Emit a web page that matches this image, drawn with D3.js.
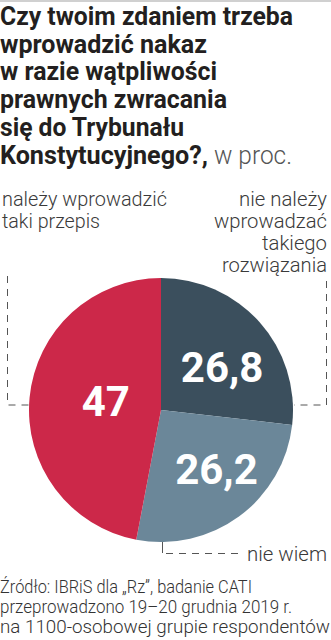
<!DOCTYPE html>
<html>
<head>
<meta charset="utf-8">
<script src="https://cdn.jsdelivr.net/npm/d3@7"></script>
<style>
  body { margin: 0; background: #fff; }
  svg { display: block; }
  text { font-family: Roboto, "Noto Sans", sans-serif; }
</style>
</head>
<body>
<div id="chart"></div>
<script>
// data
var categories = ["nie należy wprowadzać takiego rozwiązania", "nie wiem", "należy wprowadzić taki przepis"];
var values = [26.8, 26.2, 47];
var valueLabels = ["26,8", "26,2", "47"];
var colors = ["#3b4f5d", "#6b8799", "#cc2849"];

var titleLines = ["Czy twoim zdaniem trzeba", "wprowadzić nakaz", "w razie wątpliwości",
    "prawnych zwracania", "się do Trybunału", "Konstytucyjnego?,"];
var sourceLines = ["Źródło: IBRiS dla „Rz”, badanie CATI",
    "przeprowadzono 19–20 grudnia 2019 r.",
    "na 1100-osobowej grupie respondentów"];

var width = 331, height = 640;
var svg = d3.select("#chart").append("svg")
    .attr("width", width)
    .attr("height", height);

// thin grey rule on top
svg.append("rect").attr("x", 0).attr("y", 0).attr("width", width).attr("height", 2).attr("fill", "#d0d0d0");

// title
var titleWidths = [293, 207, 217, 227, 184, 208];
svg.selectAll(".title")
    .data(titleLines)
    .enter().append("text")
    .attr("class", "title")
    .attr("x", 0)
    .attr("y", function(d, i) { return 25 + i * 27.7; })
    .attr("font-size", 26)
    .attr("font-weight", 700)
    .attr("fill", "#231f20")
    .attr("textLength", function(d, i) { return titleWidths[i]; })
    .attr("lengthAdjust", "spacingAndGlyphs")
    .text(function(d) { return d; });

svg.append("text")
    .attr("x", 214).attr("y", 163.5)
    .attr("font-size", 25)
    .attr("font-weight", 300)
    .attr("fill", "#555")
    .attr("textLength", 78)
    .attr("lengthAdjust", "spacingAndGlyphs")
    .text("w proc.");

// pie
var cx = 161, cy = 410, r = 132;
var pie = d3.pie().sort(null).value(function(d) { return d; });
var arc = d3.arc().innerRadius(0).outerRadius(r);
var arcs = pie(values);

var g = svg.append("g").attr("transform", "translate(" + cx + "," + cy + ")");
g.selectAll("path")
    .data(arcs)
    .enter().append("path")
    .attr("d", arc)
    .attr("fill", function(d, i) { return colors[i]; });

// value labels, radius per slice as placed in the original
var labelRadius = [75, 81, 56];
g.selectAll(".val")
    .data(arcs)
    .enter().append("text")
    .attr("class", "val")
    .attr("transform", function(d, i) {
        var a = (d.startAngle + d.endAngle) / 2;
        if (i === 0) a += 0.11;
        if (i === 1) a -= 0.12;
        if (i === 2) a += 0.07;
        return "translate(" + (Math.sin(a) * labelRadius[i]) + "," + (-Math.cos(a) * labelRadius[i]) + ")";
    })
    .attr("text-anchor", "middle")
    .attr("dy", "0.36em")
    .attr("font-size", 42)
    .attr("font-weight", 700)
    .attr("fill", "#fff")
    .text(function(d, i) { return valueLabels[i]; });

// category labels
var lab = svg.append("g").attr("font-weight", 300).attr("fill", "#3a3a3a").attr("font-size", 21);
var leftLines = ["należy wprowadzić", "taki przepis"];
var leftW = [165, 98];
lab.selectAll(".l")
    .data(leftLines)
    .enter().append("text")
    .attr("x", 2)
    .attr("y", function(d, i) { return 206 + i * 22; })
    .attr("textLength", function(d, i) { return leftW[i]; })
    .attr("lengthAdjust", "spacingAndGlyphs")
    .text(function(d) { return d; });

var rightLines = ["nie należy", "wprowadzać", "takiego", "rozwiązania"];
var rightW = [88, 113, 65, 105];
lab.selectAll(".r")
    .data(rightLines)
    .enter().append("text")
    .attr("x", function(d, i) { return 327 - rightW[i]; })
    .attr("y", function(d, i) { return 206 + i * 22; })
    .attr("textLength", function(d, i) { return rightW[i]; })
    .attr("lengthAdjust", "spacingAndGlyphs")
    .text(function(d) { return d; });

lab.append("text")
    .attr("x", 247).attr("y", 561)
    .attr("textLength", 80)
    .attr("lengthAdjust", "spacingAndGlyphs")
    .text("nie wiem");

// leader lines
var lines = svg.append("g").attr("stroke", "#555").attr("stroke-width", 1).attr("fill", "none");
lines.append("path").attr("d", "M7.5,276V405H32").attr("stroke-dasharray", "7,6");
lines.append("path").attr("d", "M326.5,281V405H294").attr("stroke-dasharray", "7,6");
lines.append("path").attr("d", "M162.5,542V553");
lines.append("path").attr("d", "M166,553.5H238").attr("stroke-dasharray", "7,6");

// source
svg.selectAll(".src")
    .data(sourceLines)
    .enter().append("text")
    .attr("class", "src")
    .attr("x", 0)
    .attr("y", function(d, i) { return 593 + i * 20; })
    .attr("font-size", 18)
    .attr("font-weight", 300)
    .attr("fill", "#333")
    .attr("textLength", function(d, i) { return [252, 292, 330][i]; })
    .attr("lengthAdjust", "spacingAndGlyphs")
    .text(function(d) { return d; });
</script>
</body>
</html>
